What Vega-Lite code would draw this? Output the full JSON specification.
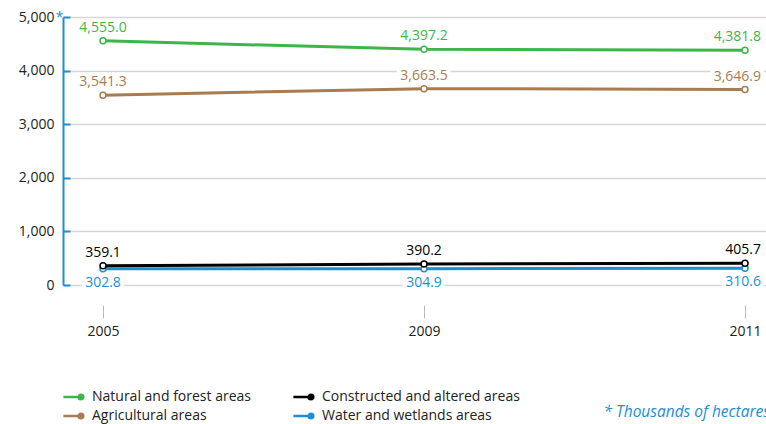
{
  "$schema": "https://vega.github.io/schema/vega-lite/v6.json",
  "width": 703,
  "height": 268,
  "autosize": {"type": "none"},
  "padding": {"left": 63, "top": 17, "right": 0, "bottom": 139},
  "background": "white",
  "config": {"font": "Open Sans", "view": {"stroke": null}},
  "title": {
    "text": "* Thousands of hectares",
    "orient": "bottom",
    "anchor": "end",
    "fontStyle": "italic",
    "fontWeight": "normal",
    "fontSize": 15.5,
    "color": "#1b8fd2",
    "offset": -18,
    "dx": 4
  },
  "data": {
    "values": [
      {"year": "2005", "series": "Natural and forest areas", "value": 4555.0},
      {"year": "2009", "series": "Natural and forest areas", "value": 4397.2},
      {"year": "2011", "series": "Natural and forest areas", "value": 4381.8},
      {"year": "2005", "series": "Agricultural areas", "value": 3541.3},
      {"year": "2009", "series": "Agricultural areas", "value": 3663.5},
      {"year": "2011", "series": "Agricultural areas", "value": 3646.9},
      {"year": "2005", "series": "Water and wetlands areas", "value": 302.8},
      {"year": "2009", "series": "Water and wetlands areas", "value": 304.9},
      {"year": "2011", "series": "Water and wetlands areas", "value": 310.6},
      {"year": "2005", "series": "Constructed and altered areas", "value": 359.1},
      {"year": "2009", "series": "Constructed and altered areas", "value": 390.2},
      {"year": "2011", "series": "Constructed and altered areas", "value": 405.7}
    ]
  },
  "encoding": {
    "x": {
      "field": "year",
      "type": "ordinal",
      "scale": {"type": "point", "padding": 0.095, "align": 0.656},
      "axis": {
        "title": null,
        "labelAngle": 0,
        "offset": 20,
        "domain": false,
        "grid": false,
        "tickColor": "#bbbbbb",
        "tickSize": 13,
        "tickWidth": 1,
        "labelPadding": 6,
        "labelFontSize": 14,
        "labelColor": "#222222"
      }
    },
    "y": {
      "field": "value",
      "type": "quantitative",
      "scale": {"domain": [0, 5000], "nice": false},
      "axis": {
        "values": [0, 1000, 2000, 3000, 4000, 5000],
        "format": ",.0f",
        "title": "*",
        "titleAngle": 0,
        "titleX": -4,
        "titleY": 4,
        "titleAlign": "center",
        "titleBaseline": "alphabetic",
        "titleColor": "#1b8fd2",
        "titleFontSize": 14,
        "titleFontWeight": "normal",
        "domainColor": "#1b8fd2",
        "domainWidth": 2,
        "tickColor": "#1b8fd2",
        "tickWidth": 2,
        "tickSize": -7,
        "labelPadding": 16,
        "labelFontSize": 14,
        "labelColor": "#222222",
        "gridColor": "#d6d6d6",
        "gridWidth": 1.5
      }
    }
  },
  "layer": [
    {
      "mark": {
        "type": "text",
        "fontSize": 14,
        "fill": "white",
        "stroke": "white",
        "strokeWidth": 8,
        "strokeJoin": "round",
        "baseline": "middle",
        "align": {"expr": "datum.year == '2011' ? 'right' : 'center'"},
        "dx": {"expr": "datum.year == '2011' ? 16 : 0"},
        "dy": {"expr": "datum.series == 'Water and wetlands areas' ? 14 : -13"}
      },
      "encoding": {"text": {"field": "value", "format": ",.1f"}}
    },
    {
      "mark": {"type": "line", "strokeWidth": 3},
      "encoding": {
        "color": {
          "field": "series",
          "type": "nominal",
          "scale": {
            "domain": ["Natural and forest areas", "Agricultural areas", "Constructed and altered areas", "Water and wetlands areas"],
            "range": ["#3db54a", "#a87b50", "#000000", "#1b8fd2"]
          },
          "legend": {
            "orient": "none",
            "legendX": 0,
            "legendY": 369,
            "columns": 2,
            "title": null,
            "labelLimit": 400,
            "symbolType": "M-1,-0.06H0.4V0.06H-1Z M1,0A0.3,0.3,0,1,1,0.4,0A0.3,0.3,0,1,1,1,0Z",
            "symbolSize": 400,
            "symbolStrokeWidth": 1.2,
            "symbolFillColor": "white",
            "labelFontSize": 14,
            "labelColor": "#222222",
            "labelOffset": 7,
            "columnPadding": 40,
            "rowPadding": 1,
            "encode": {
              "symbols": {
                "update": {
                  "shape": {"value": "M-1,-0.06H0.4V0.06H-1Z M1,0A0.3,0.3,0,1,1,0.4,0A0.3,0.3,0,1,1,1,0Z"},
                  "fill": {"value": "white"},
                  "strokeWidth": {"value": 1.2}
                }
              }
            }
          }
        }
      }
    },
    {
      "mark": {"type": "point", "filled": false, "fill": "white", "fillOpacity": 1, "opacity": 1, "size": 36, "strokeWidth": 1.5},
      "encoding": {"color": {"field": "series", "type": "nominal", "legend": null}}
    },
    {
      "mark": {
        "type": "text",
        "fontSize": 14,
        "baseline": "middle",
        "align": {"expr": "datum.year == '2011' ? 'right' : 'center'"},
        "dx": {"expr": "datum.year == '2011' ? 16 : 0"},
        "dy": {"expr": "datum.series == 'Water and wetlands areas' ? 14 : -13"}
      },
      "encoding": {
        "text": {"field": "value", "format": ",.1f"},
        "color": {"field": "series", "type": "nominal", "legend": null}
      }
    }
  ]
}
